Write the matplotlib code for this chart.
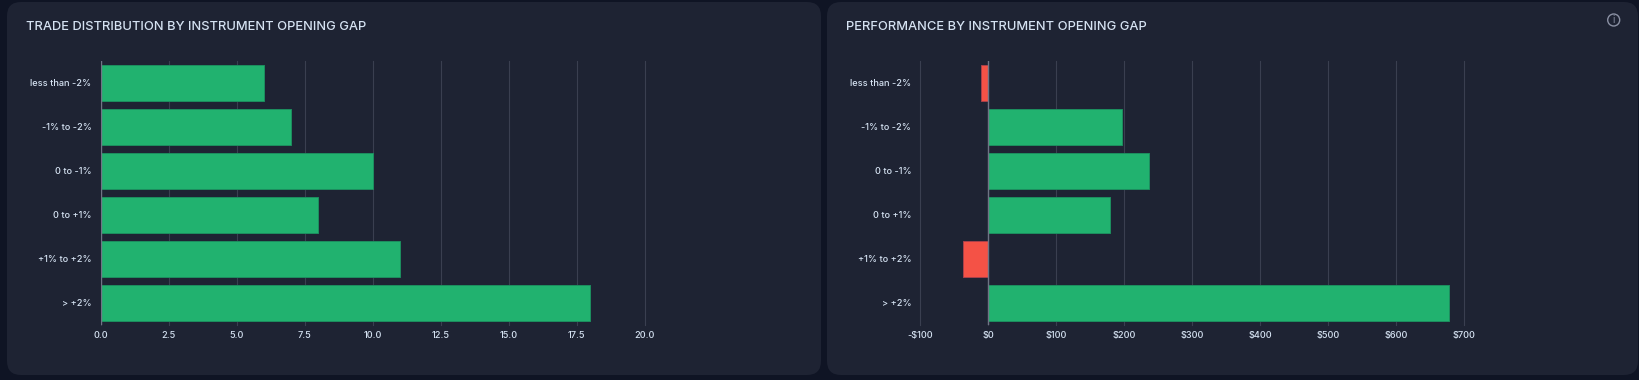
import matplotlib
matplotlib.use('Agg')
from matplotlib import pyplot as plt
from matplotlib.patches import FancyBboxPatch, Circle

W = 1639
H = 380

categories = ['less than -2%', '-1% to -2%', '0 to -1%', '0 to +1%', '+1% to +2%', '> +2%']
trade_counts = [6, 7, 10, 8, 11, 18]
gap_pnl = [-11, 196, 236, 179, -37, 678]

count_ticks = [0, 2.5, 5, 7.5, 10, 12.5, 15, 17.5, 20]
count_labels = ['0.0', '2.5', '5.0', '7.5', '10.0', '12.5', '15.0', '17.5', '20.0']
pnl_ticks = [-100, 0, 100, 200, 300, 400, 500, 600, 700]
pnl_labels = ['-$100', '$0', '$100', '$200', '$300', '$400', '$500', '$600', '$700']

BG = '#0f1424'
CARD = '#1e2333'
GREEN = '#21b26f'
GREEN_EDGE = '#1c8f5f'
RED = '#f45246'
RED_EDGE = '#a8414a'
GRID = '#3a3f50'
SPINE = '#6f7485'
TEXT = '#d5e2f2'

plt.rcParams['font.family'] = ['Inter', 'DejaVu Sans']


def px_axes(fig, left, right, top, bottom):
    return fig.add_axes([left / W, 1 - bottom / H, (right - left) / W, (bottom - top) / H])


def card(bg, left, right, top, bottom):
    bg.add_patch(FancyBboxPatch((left + 14, top + 14), right - left - 28, bottom - top - 28,
                                boxstyle='round,pad=14,rounding_size=14', fc=CARD, ec='none'))


def draw_panel(ax, values, ticks, labels, xlim):
    colors = [GREEN if v >= 0 else RED for v in values]
    edges = [GREEN_EDGE if v >= 0 else RED_EDGE for v in values]
    ax.set_facecolor('none')
    ax.barh(categories, values, height=0.8, color=colors, edgecolor=edges, linewidth=0.7, zorder=3)
    ax.set_ylim(5.5, -0.5)
    ax.set_xlim(*xlim)
    ax.set_xticks(ticks)
    ax.set_xticklabels(labels)
    ax.grid(axis='x', color=GRID, linewidth=0.8, zorder=0)
    ax.grid(axis='y', visible=False)
    for line in ax.get_xgridlines():
        line.set_clip_on(False)
    ax.axvline(0, color=SPINE, linewidth=1, zorder=4)
    for s in ax.spines.values():
        s.set_visible(False)
    ax.tick_params(axis='both', length=0, labelsize=6.6, labelcolor=TEXT)
    ax.tick_params(axis='y', pad=6.5)
    ax.tick_params(axis='x', pad=4.6)
    for t in ax.get_xticklabels() + ax.get_yticklabels():
        t.set_fontweight('medium')


fig = plt.figure(figsize=(W / 100, H / 100), dpi=100, facecolor=BG)

bg = fig.add_axes([0, 0, 1, 1])
bg.set_xlim(0, W)
bg.set_ylim(H, 0)
bg.axis('off')
card(bg, 7, 821, 2, 375)
card(bg, 827, 1638, 2, 375)
bg.add_patch(Circle((1613.7, 20), 6, fc='none', ec='#8a90a3', lw=1))
bg.text(1613.7, 20.3, 'i', color='#8a90a3', fontsize=7, ha='center', va='center')
bg.text(26, 27, 'TRADE DISTRIBUTION BY INSTRUMENT OPENING GAP', color=TEXT, fontsize=9.3,
        fontweight='medium', ha='left', va='center')
bg.text(846.5, 27, 'PERFORMANCE BY INSTRUMENT OPENING GAP', color=TEXT, fontsize=9.3,
        fontweight='medium', ha='left', va='center')

ax1 = px_axes(fig, 100.5, 644.5, 61, 325)
draw_panel(ax1, trade_counts, count_ticks, count_labels, (0, 20))

ax2 = px_axes(fig, 920.3, 1464.3, 61, 325)
draw_panel(ax2, gap_pnl, pnl_ticks, pnl_labels, (-100, 700))

fig.savefig('out.png', dpi=100, facecolor=BG)
